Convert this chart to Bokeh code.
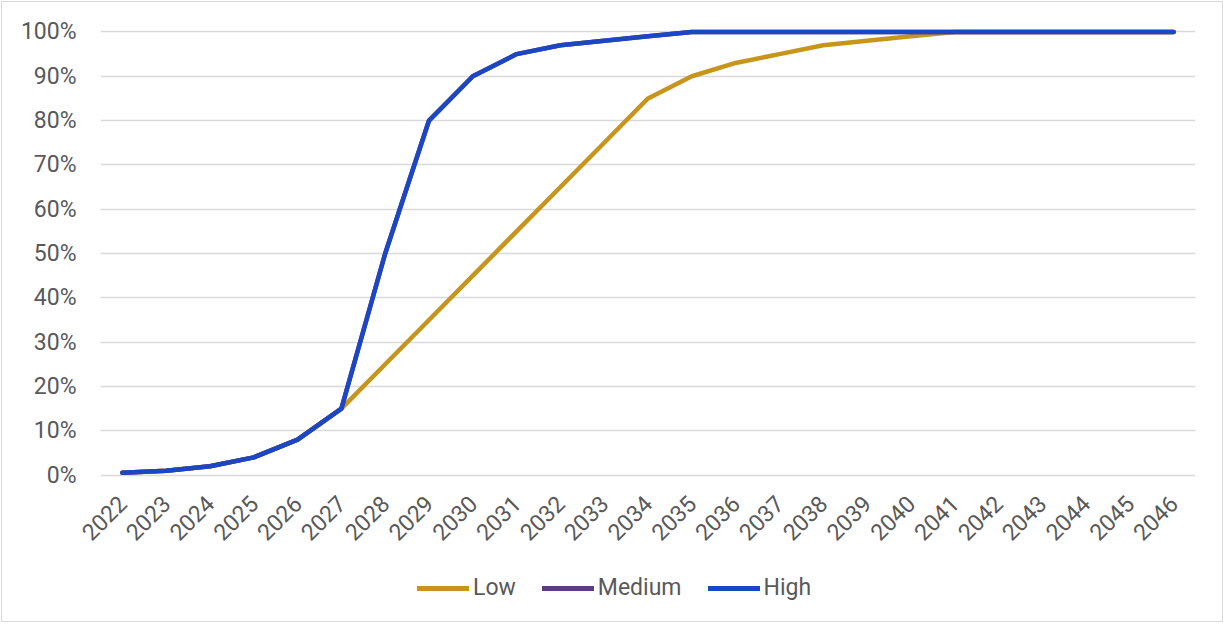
from bokeh.plotting import figure
from bokeh.layouts import column
from bokeh.models import FactorRange, Range1d, NumeralTickFormatter, Legend, LegendItem, FixedTicker
from bokeh.embed import file_html
from bokeh.resources import INLINE
import math

years = [str(y) for y in range(2022, 2047)]

low = [0.005, 0.01, 0.02, 0.04, 0.08, 0.15, 0.25, 0.35, 0.45, 0.55, 0.65, 0.75, 0.85,
       0.90, 0.93, 0.95, 0.97, 0.98, 0.99, 1.00, 1.00, 1.00, 1.00, 1.00, 1.00]
medium = [0.005, 0.01, 0.02, 0.04, 0.08, 0.15, 0.50, 0.80, 0.90, 0.95, 0.97, 0.98, 0.99,
          1.00, 1.00, 1.00, 1.00, 1.00, 1.00, 1.00, 1.00, 1.00, 1.00, 1.00, 1.00]
high = [0.005, 0.01, 0.02, 0.04, 0.08, 0.15, 0.50, 0.80, 0.90, 0.95, 0.97, 0.98, 0.99,
        1.00, 1.00, 1.00, 1.00, 1.00, 1.00, 1.00, 1.00, 1.00, 1.00, 1.00, 1.00]

series_names = ["Low", "Medium", "High"]
series_colors = ["#C8951C", "#5E3A7E", "#1B47C4"]

FONT = "Roboto"
TXT = "#595959"
W = 1220

# main chart
p = figure(
    width=W, height=549,
    x_range=FactorRange(factors=years, range_padding=0),
    y_range=Range1d(-0.01, 1.01),
    output_backend="svg", toolbar_location=None,
    min_border_left=98, min_border_right=27, min_border_top=25, min_border_bottom=65,
)
p.outline_line_color = None
p.border_fill_color = "white"

p.xgrid.grid_line_color = None
p.ygrid.grid_line_color = "#D9D9D9"
p.ygrid.grid_line_width = 1.5
p.yaxis.ticker = FixedTicker(ticks=[i / 10 for i in range(11)])
p.yaxis.formatter = NumeralTickFormatter(format="0%")

for ax in (p.xaxis[0], p.yaxis[0]):
    ax.axis_line_color = None
    ax.major_tick_line_color = None
    ax.minor_tick_line_color = None
    ax.major_label_text_font = FONT
    ax.major_label_text_font_size = "23px"
    ax.major_label_text_color = TXT

p.yaxis.major_label_standoff = 18
p.xaxis.major_label_orientation = math.pi / 4
p.xaxis.major_label_standoff = 14

for vals, col in zip([low, medium, high], series_colors):
    p.line(years, vals, line_color=col, line_width=4.5, line_join="round", line_cap="round")

# legend strip under the chart
leg = figure(
    width=W, height=70,
    x_range=Range1d(0, 1), y_range=Range1d(0, 1),
    output_backend="svg", toolbar_location=None,
    min_border=0,
)
leg.axis.visible = False
leg.grid.visible = False
leg.outline_line_color = None

items = []
for name, col in zip(series_names, series_colors):
    # off-range points: only the legend swatch is seen
    r = leg.line([5, 6], [5, 6], line_color=col, line_width=5, line_cap="round")
    items.append(LegendItem(label=name, renderers=[r]))

legend = Legend(
    items=items,
    orientation="horizontal",
    location=(317, 20),
    glyph_width=52, glyph_height=20, label_standoff=4, spacing=26,
    padding=0, margin=0,
    border_line_color=None, background_fill_alpha=0,
    label_text_font=FONT, label_text_font_size="23px", label_text_color=TXT,
)
leg.add_layout(legend, "center")

layout = column(p, leg, spacing=0)
layout.styles = {"border": "1px solid #D9D9D9", "margin-left": "1px", "margin-top": "1px"}

open("out.html", "w").write(file_html(layout, INLINE))
